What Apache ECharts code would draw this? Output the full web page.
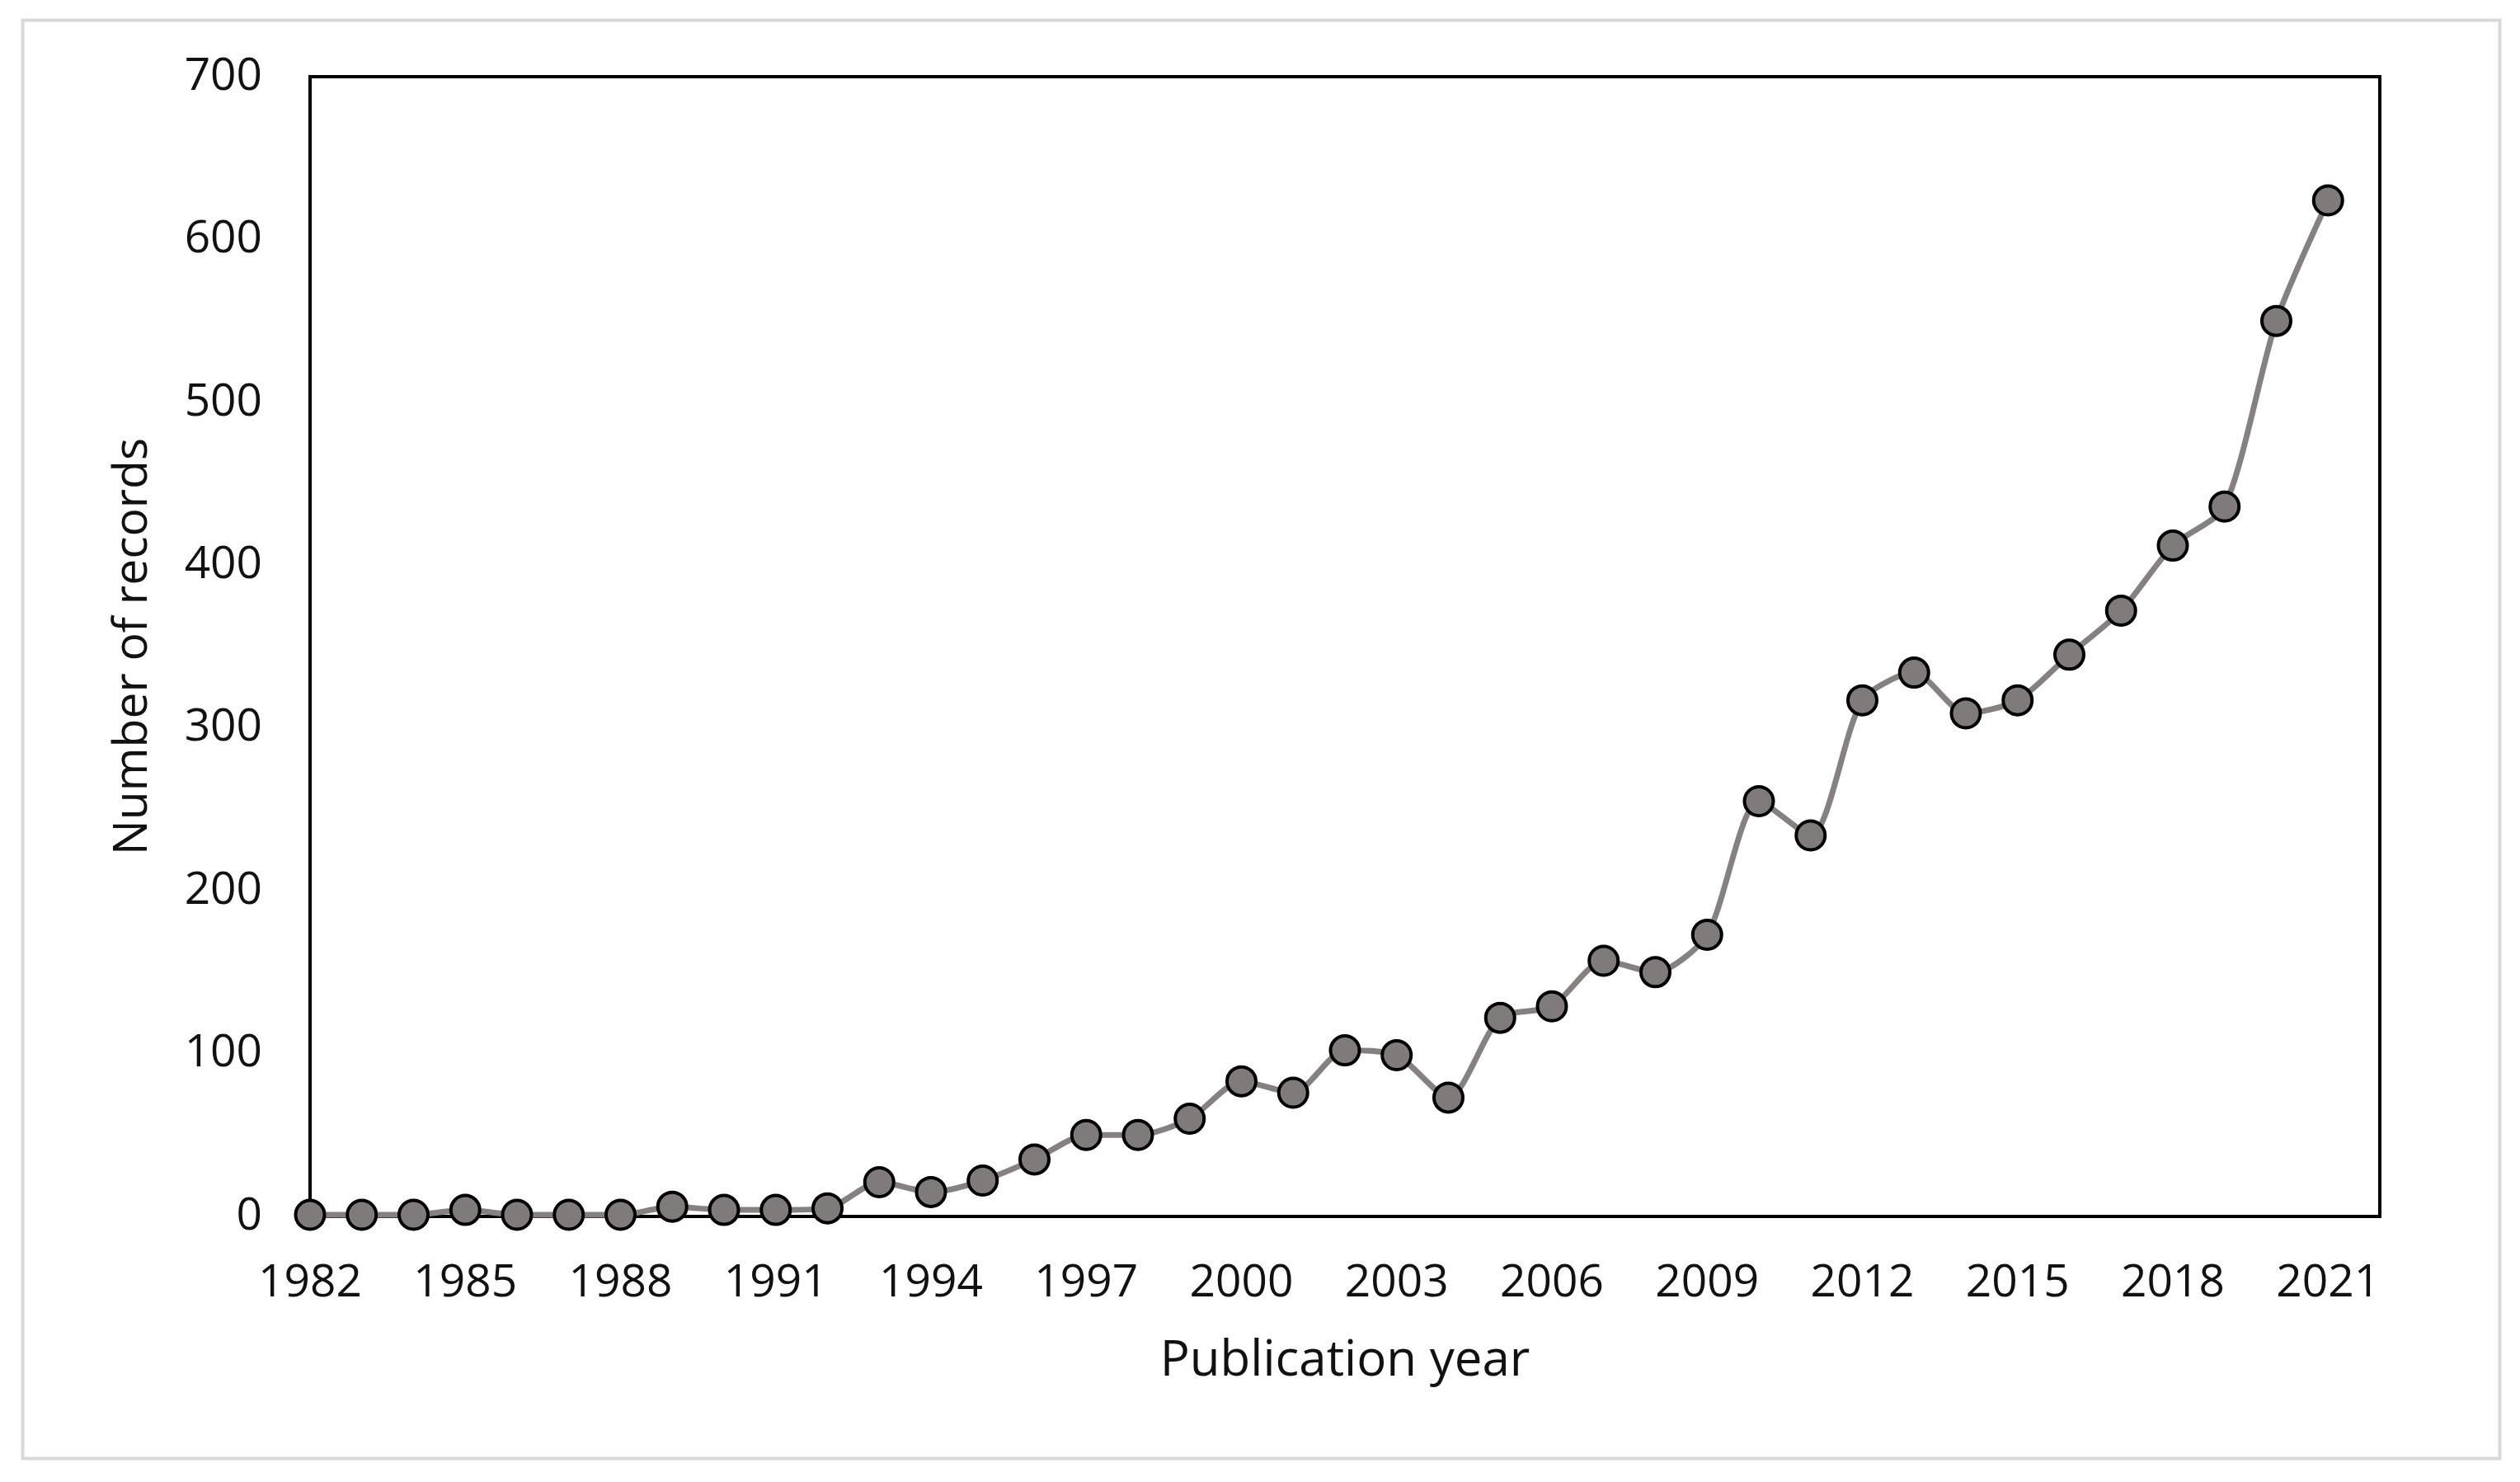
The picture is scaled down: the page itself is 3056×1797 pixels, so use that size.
<!DOCTYPE html>
<html>
<head>
<meta charset="utf-8">
<title>Number of records by publication year</title>
<script src="https://cdn.jsdelivr.net/npm/echarts@6/dist/echarts.min.js"></script>
<style>
  html, body { margin: 0; padding: 0; background: #fff; }
  #chart { width: 3056px; height: 1797px; }
</style>
</head>
<body>
<div id="chart"></div>
<script>
// publication years (x) and record counts (y)
const years = [1982, 1983, 1984, 1985, 1986, 1987, 1988, 1989, 1990, 1991,
               1992, 1993, 1994, 1995, 1996, 1997, 1998, 1999, 2000, 2001,
               2002, 2003, 2004, 2005, 2006, 2007, 2008, 2009, 2010, 2011,
               2012, 2013, 2014, 2015, 2016, 2017, 2018, 2019, 2020, 2021];
const records = [1, 1, 1, 4, 1, 1, 1, 6, 4, 4,
                 5, 21, 15, 22, 35, 50, 50, 60, 83, 76,
                 102, 99, 73, 122, 129, 157, 150, 173, 255, 234,
                 317, 334, 309, 317, 345, 372, 412, 436, 550, 624];
const yTicks = [0, 100, 200, 300, 400, 500, 600, 700];

const FONT = '"Open Sans", "Noto Sans", sans-serif';
const TEXT = '#111';

const chart = echarts.init(document.getElementById('chart'));

const points = years.map((y, i) => [y, records[i]]);

chart.setOption({
  animation: false,
  backgroundColor: '#fff',
  graphic: [{
    type: 'rect',
    left: 25, top: 22,
    shape: { width: 3004, height: 1744 },
    style: { fill: 'none', stroke: '#d9d9d9', lineWidth: 4 },
    silent: true
  }],
  grid: {
    left: 376, right: 170, top: 93, bottom: 322,
    show: true,
    borderColor: '#000',
    borderWidth: 4,
    backgroundColor: 'transparent'
  },
  xAxis: {
    type: 'value',
    min: years[0],
    max: years[years.length - 1] + 1,
    interval: 3,
    name: 'Publication year',
    nameLocation: 'middle',
    nameGap: 146,
    nameTextStyle: { fontFamily: FONT, fontSize: 60, color: TEXT },
    axisLine: { show: true, lineStyle: { color: '#000', width: 4 } },
    axisTick: { show: false },
    splitLine: { show: false },
    axisLabel: {
      fontFamily: FONT, fontSize: 55, color: TEXT, margin: 54,
      showMaxLabel: false,
      formatter: v => String(v)
    }
  },
  yAxis: {
    type: 'value',
    min: yTicks[0],
    max: yTicks[yTicks.length - 1],
    interval: 100,
    name: 'Number of records',
    nameLocation: 'middle',
    nameGap: 186,
    nameTextStyle: { fontFamily: FONT, fontSize: 57, color: TEXT },
    axisLine: { show: true, lineStyle: { color: '#000', width: 4 } },
    axisTick: { show: false },
    splitLine: { show: false },
    axisLabel: { fontFamily: FONT, fontSize: 55, color: TEXT, margin: 58 }
  },
  series: [{
    type: 'line',
    data: points,
    smooth: 0.25,
    clip: false,
    symbol: 'circle',
    symbolSize: 35,
    lineStyle: { color: '#858181', width: 7 },
    itemStyle: { color: '#7f7b7b', borderColor: '#000', borderWidth: 4 }
  }]
});
</script>
</body>
</html>
